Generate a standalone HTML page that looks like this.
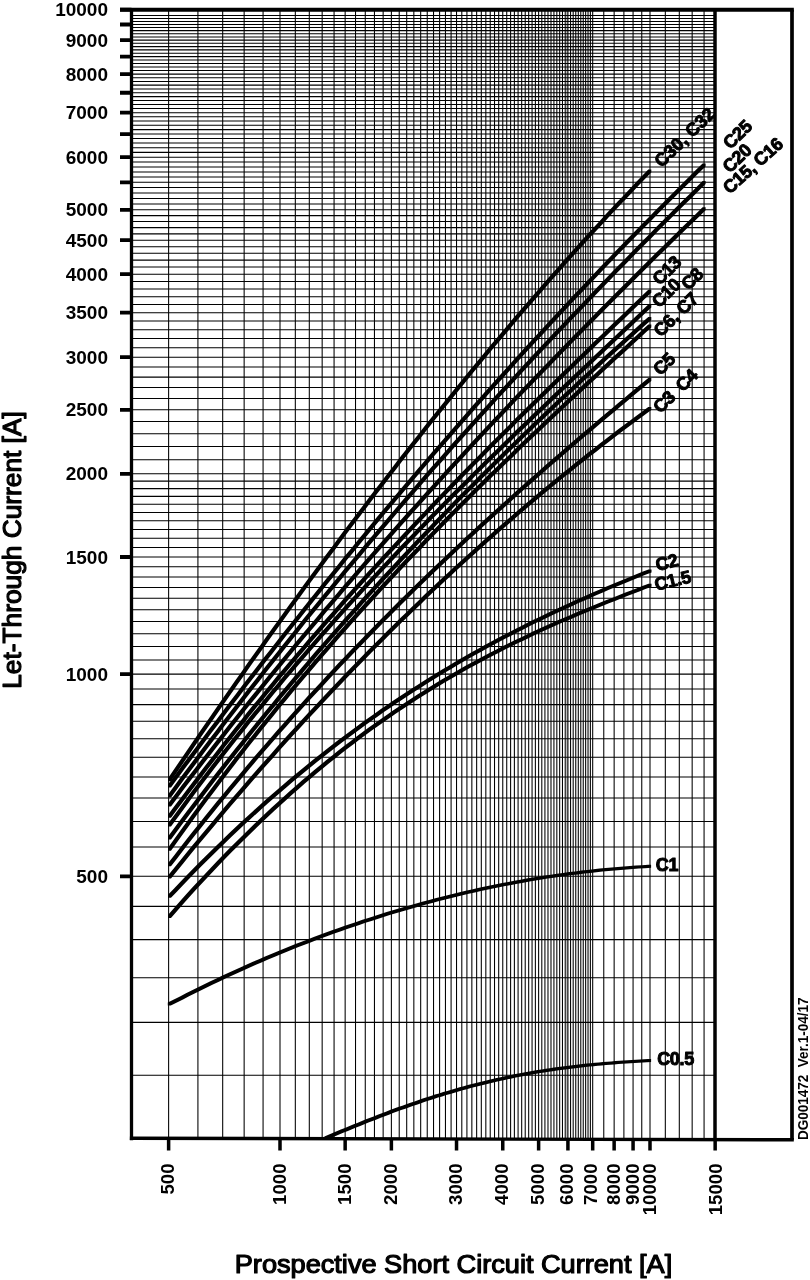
<!DOCTYPE html>
<html><head><meta charset="utf-8"><title>Let-Through Current</title>
<style>
html,body{margin:0;padding:0;background:#fff;}
body{width:810px;height:1280px;overflow:hidden;font-family:"Liberation Sans",sans-serif;}
svg{display:block;opacity:0.999;will-change:transform;}
</style></head><body>
<svg width="810" height="1280" viewBox="0 0 810 1280">
<rect width="810" height="1280" fill="#fff"/>
<path d="M168.62 9.7V1138.6M197.92 9.7V1138.6M222.69 9.7V1138.6M244.14 9.7V1138.6M263.07 9.7V1138.6M280.00 9.7V1138.6M295.32 9.7V1138.6M309.30 9.7V1138.6M322.16 9.7V1138.6M334.07 9.7V1138.6M345.15 9.7V1138.6M355.52 9.7V1138.6M365.27 9.7V1138.6M374.45 9.7V1138.6M383.14 9.7V1138.6M391.38 9.7V1138.6M399.22 9.7V1138.6M406.70 9.7V1138.6M413.84 9.7V1138.6M420.68 9.7V1138.6M427.24 9.7V1138.6M433.54 9.7V1138.6M439.60 9.7V1138.6M445.45 9.7V1138.6M451.09 9.7V1138.6M456.53 9.7V1138.6M461.80 9.7V1138.6M466.91 9.7V1138.6M471.85 9.7V1138.6M476.65 9.7V1138.6M481.31 9.7V1138.6M485.83 9.7V1138.6M490.23 9.7V1138.6M494.52 9.7V1138.6M498.69 9.7V1138.6M502.76 9.7V1138.6M506.73 9.7V1138.6M510.60 9.7V1138.6M514.38 9.7V1138.6M518.08 9.7V1138.6M521.69 9.7V1138.6M525.22 9.7V1138.6M528.68 9.7V1138.6M532.06 9.7V1138.6M535.37 9.7V1138.6M538.62 9.7V1138.6M541.80 9.7V1138.6M544.92 9.7V1138.6M547.98 9.7V1138.6M550.99 9.7V1138.6M553.93 9.7V1138.6M556.83 9.7V1138.6M559.67 9.7V1138.6M562.47 9.7V1138.6M565.22 9.7V1138.6M567.92 9.7V1138.6M570.57 9.7V1138.6M573.18 9.7V1138.6M575.76 9.7V1138.6M578.29 9.7V1138.6M580.78 9.7V1138.6M583.23 9.7V1138.6M585.65 9.7V1138.6M588.03 9.7V1138.6M590.37 9.7V1138.6M592.69 9.7V1138.6M603.77 9.7V1138.6M614.14 9.7V1138.6M623.89 9.7V1138.6M633.07 9.7V1138.6M641.76 9.7V1138.6M650.00 9.7V1138.6M665.32 9.7V1138.6M679.30 9.7V1138.6M692.16 9.7V1138.6M704.07 9.7V1138.6" fill="none" stroke="#000" stroke-width="1.06" stroke-opacity="1.0"/>
<path d="M567.02 9.7V1138.6" fill="none" stroke="#000" stroke-width="1.0" stroke-opacity="0.55"/>
<path d="M131.5 1075.20H715.0M131.5 1022.40H715.0M131.5 977.80H715.0M131.5 939.60H715.0M131.5 906.40H715.0M131.5 876.30H715.0M131.5 847.00H715.0M131.5 821.50H715.0M131.5 798.00H715.0M131.5 777.00H715.0M131.5 757.26H715.0M131.5 738.80H715.0M131.5 721.22H715.0M131.5 704.65H715.0M131.5 688.97H715.0M131.5 674.10H715.0M131.5 660.01H715.0M131.5 646.57H715.0M131.5 633.74H715.0M131.5 621.44H715.0M131.5 609.66H715.0M131.5 598.33H715.0M131.5 587.43H715.0M131.5 576.93H715.0M131.5 566.79H715.0M131.5 557.00H715.0M131.5 547.52H715.0M131.5 538.33H715.0M131.5 529.44H715.0M131.5 520.80H715.0M131.5 512.42H715.0M131.5 504.27H715.0M131.5 496.35H715.0M131.5 488.63H715.0M131.5 481.12H715.0M131.5 473.80H715.0M131.5 459.81H715.0M131.5 446.46H715.0M131.5 433.71H715.0M131.5 421.51H715.0M131.5 409.80H715.0M131.5 398.48H715.0M131.5 387.59H715.0M131.5 377.10H715.0M131.5 366.98H715.0M131.5 357.19H715.0M131.5 347.73H715.0M131.5 338.57H715.0M131.5 329.69H715.0M131.5 321.08H715.0M131.5 312.71H715.0M131.5 304.59H715.0M131.5 296.68H715.0M131.5 288.99H715.0M131.5 281.49H715.0M131.5 274.19H715.0M131.5 267.06H715.0M131.5 260.11H715.0M131.5 253.32H715.0M131.5 246.68H715.0M131.5 240.20H715.0M131.5 233.86H715.0M131.5 227.65H715.0M131.5 221.58H715.0M131.5 215.63H715.0M131.5 209.80H715.0M131.5 204.08H715.0M131.5 198.48H715.0M131.5 192.98H715.0M131.5 187.58H715.0M131.5 182.29H715.0M131.5 177.08H715.0M131.5 171.97H715.0M131.5 166.95H715.0M131.5 162.02H715.0M131.5 157.17H715.0M131.5 152.40H715.0M131.5 147.70H715.0M131.5 143.08H715.0M131.5 138.54H715.0M131.5 134.06H715.0M131.5 129.65H715.0M131.5 125.31H715.0M131.5 121.03H715.0M131.5 116.82H715.0M131.5 112.67H715.0M131.5 108.57H715.0M131.5 104.53H715.0M131.5 100.55H715.0M131.5 96.62H715.0M131.5 92.75H715.0M131.5 88.93H715.0M131.5 85.15H715.0M131.5 81.43H715.0M131.5 77.75H715.0M131.5 74.12H715.0M131.5 70.53H715.0M131.5 66.99H715.0M131.5 63.49H715.0M131.5 60.03H715.0M131.5 56.62H715.0M131.5 53.24H715.0M131.5 49.90H715.0M131.5 46.60H715.0M131.5 43.34H715.0M131.5 40.12H715.0M131.5 36.93H715.0M131.5 33.77H715.0M131.5 30.65H715.0M131.5 27.56H715.0M131.5 24.51H715.0M131.5 21.48H715.0M131.5 18.49H715.0M131.5 15.53H715.0" fill="none" stroke="#000" stroke-width="1.06" stroke-opacity="1.0"/>
<path d="M120.0 9.8H793.85" fill="none" stroke="#000" stroke-width="4.0"/>
<path d="M131.5 9.7V1140.3" fill="none" stroke="#000" stroke-width="3.3"/>
<path d="M129.85 1138.2L793.85 1139.8" fill="none" stroke="#000" stroke-width="3.4"/>
<path d="M715.0 9.7V1139.4" fill="none" stroke="#000" stroke-width="3.5"/>
<path d="M792.0 9.7V1139.8" fill="none" stroke="#000" stroke-width="3.7"/>
<path d="M120.0 9.70H131.5M120.0 40.12H131.5M120.0 74.12H131.5M120.0 112.67H131.5M120.0 157.17H131.5M120.0 209.80H131.5M120.0 240.20H131.5M120.0 274.19H131.5M120.0 312.71H131.5M120.0 357.19H131.5M120.0 409.80H131.5M120.0 473.80H131.5M120.0 557.00H131.5M120.0 674.10H131.5M120.0 876.30H131.5M120.0 24.51H131.5M120.0 56.62H131.5M120.0 92.75H131.5M120.0 134.06H131.5M120.0 182.29H131.5" fill="none" stroke="#000" stroke-width="3.8"/>
<path d="M168.62 1138.6V1150.6M280.00 1138.6V1150.6M345.15 1138.6V1150.6M391.38 1138.6V1150.6M456.53 1138.6V1150.6M502.76 1138.6V1150.6M538.62 1138.6V1150.6M567.92 1138.6V1150.6M592.69 1138.6V1150.6M614.14 1138.6V1150.6M633.07 1138.6V1150.6M650.00 1138.6V1150.6M715.15 1138.6V1150.6" fill="none" stroke="#000" stroke-width="3.5"/>
<text x="108" y="16.3" text-anchor="end" font-family="Liberation Sans, sans-serif" font-weight="bold" font-size="19" fill="#000">10000</text>
<text x="108" y="46.7" text-anchor="end" font-family="Liberation Sans, sans-serif" font-weight="bold" font-size="19" fill="#000">9000</text>
<text x="108" y="80.7" text-anchor="end" font-family="Liberation Sans, sans-serif" font-weight="bold" font-size="19" fill="#000">8000</text>
<text x="108" y="119.3" text-anchor="end" font-family="Liberation Sans, sans-serif" font-weight="bold" font-size="19" fill="#000">7000</text>
<text x="108" y="163.8" text-anchor="end" font-family="Liberation Sans, sans-serif" font-weight="bold" font-size="19" fill="#000">6000</text>
<text x="108" y="216.4" text-anchor="end" font-family="Liberation Sans, sans-serif" font-weight="bold" font-size="19" fill="#000">5000</text>
<text x="108" y="246.8" text-anchor="end" font-family="Liberation Sans, sans-serif" font-weight="bold" font-size="19" fill="#000">4500</text>
<text x="108" y="280.8" text-anchor="end" font-family="Liberation Sans, sans-serif" font-weight="bold" font-size="19" fill="#000">4000</text>
<text x="108" y="319.3" text-anchor="end" font-family="Liberation Sans, sans-serif" font-weight="bold" font-size="19" fill="#000">3500</text>
<text x="108" y="363.8" text-anchor="end" font-family="Liberation Sans, sans-serif" font-weight="bold" font-size="19" fill="#000">3000</text>
<text x="108" y="416.4" text-anchor="end" font-family="Liberation Sans, sans-serif" font-weight="bold" font-size="19" fill="#000">2500</text>
<text x="108" y="480.4" text-anchor="end" font-family="Liberation Sans, sans-serif" font-weight="bold" font-size="19" fill="#000">2000</text>
<text x="108" y="563.6" text-anchor="end" font-family="Liberation Sans, sans-serif" font-weight="bold" font-size="19" fill="#000">1500</text>
<text x="108" y="680.7" text-anchor="end" font-family="Liberation Sans, sans-serif" font-weight="bold" font-size="19" fill="#000">1000</text>
<text x="108" y="882.9" text-anchor="end" font-family="Liberation Sans, sans-serif" font-weight="bold" font-size="19" fill="#000">500</text>
<text transform="translate(174.2 1163.5) rotate(-90)" text-anchor="end" font-family="Liberation Sans, sans-serif" font-weight="bold" font-size="18.6" fill="#000">500</text>
<text transform="translate(285.6 1163.5) rotate(-90)" text-anchor="end" font-family="Liberation Sans, sans-serif" font-weight="bold" font-size="18.6" fill="#000">1000</text>
<text transform="translate(350.8 1163.5) rotate(-90)" text-anchor="end" font-family="Liberation Sans, sans-serif" font-weight="bold" font-size="18.6" fill="#000">1500</text>
<text transform="translate(397.0 1163.5) rotate(-90)" text-anchor="end" font-family="Liberation Sans, sans-serif" font-weight="bold" font-size="18.6" fill="#000">2000</text>
<text transform="translate(462.1 1163.5) rotate(-90)" text-anchor="end" font-family="Liberation Sans, sans-serif" font-weight="bold" font-size="18.6" fill="#000">3000</text>
<text transform="translate(508.4 1163.5) rotate(-90)" text-anchor="end" font-family="Liberation Sans, sans-serif" font-weight="bold" font-size="18.6" fill="#000">4000</text>
<text transform="translate(544.2 1163.5) rotate(-90)" text-anchor="end" font-family="Liberation Sans, sans-serif" font-weight="bold" font-size="18.6" fill="#000">5000</text>
<text transform="translate(573.2 1163.5) rotate(-90)" text-anchor="end" font-family="Liberation Sans, sans-serif" font-weight="bold" font-size="18.6" fill="#000">6000</text>
<text transform="translate(597.1 1163.5) rotate(-90)" text-anchor="end" font-family="Liberation Sans, sans-serif" font-weight="bold" font-size="18.6" fill="#000">7000</text>
<text transform="translate(619.5 1163.5) rotate(-90)" text-anchor="end" font-family="Liberation Sans, sans-serif" font-weight="bold" font-size="18.6" fill="#000">8000</text>
<text transform="translate(638.5 1163.5) rotate(-90)" text-anchor="end" font-family="Liberation Sans, sans-serif" font-weight="bold" font-size="18.6" fill="#000">9000</text>
<text transform="translate(656.3 1163.5) rotate(-90)" text-anchor="end" font-family="Liberation Sans, sans-serif" font-weight="bold" font-size="18.6" fill="#000">10000</text>
<text transform="translate(721.8 1163.5) rotate(-90)" text-anchor="end" font-family="Liberation Sans, sans-serif" font-weight="bold" font-size="18.6" fill="#000">15000</text>
<text x="453.5" y="1272.6" text-anchor="middle" font-family="Liberation Sans, sans-serif" font-size="26" fill="#000" stroke="#000" stroke-width="1.2" stroke-linejoin="round" textLength="437.5" lengthAdjust="spacingAndGlyphs">Prospective Short Circuit Current [A]</text>
<text transform="translate(20.7 550) rotate(-90)" text-anchor="middle" font-family="Liberation Sans, sans-serif" font-size="26" fill="#000" stroke="#000" stroke-width="1.2" stroke-linejoin="round" textLength="277.5" lengthAdjust="spacingAndGlyphs">Let-Through Current [A]</text>
<text transform="translate(807.6 1140) rotate(-90)" font-family="Liberation Sans, sans-serif" font-weight="bold" font-size="14.4" fill="#000" textLength="142.5" lengthAdjust="spacingAndGlyphs" xml:space="preserve">DG001472  Ver.1-04/17</text>
<path d="M168.0 781.2L168.0 778.2L174.1 769.2L180.2 760.3L186.2 751.4L192.3 742.5L198.4 733.6L204.5 724.8L210.6 716.0L216.6 707.2L222.7 698.5L228.8 689.8L234.9 681.1L241.0 672.4L247.0 663.8L253.1 655.2L259.2 646.7L265.3 638.1L271.4 629.6L277.4 621.2L283.5 612.7L289.6 604.3L295.7 596.0L301.8 587.6L307.8 579.3L313.9 571.0L320.0 562.8L326.1 554.6L332.2 546.4L338.2 538.3L344.3 530.1L350.4 522.1L356.5 514.0L362.6 506.0L368.6 498.0L374.7 490.1L380.8 482.2L386.9 474.3L393.0 466.4L399.0 458.6L405.1 450.8L411.2 443.1L417.3 435.4L423.3 427.7L429.4 420.1L435.5 412.5L441.6 404.9L447.7 397.4L453.7 389.9L459.8 382.4L465.9 375.0L472.0 367.6L478.1 360.2L484.1 352.9L490.2 345.6L496.3 338.4L502.4 331.2L508.5 324.0L514.5 316.8L520.6 309.7L526.7 302.7L532.8 295.7L538.9 288.7L544.9 281.7L551.0 274.8L557.1 267.9L563.2 261.1L569.3 254.3L575.3 247.5L581.4 240.8L587.5 234.1L593.6 227.5L599.7 220.9L605.7 214.3L611.8 207.8L617.9 201.3L624.0 194.9L630.1 188.5L636.1 182.1L642.2 175.8L648.3 169.5L651.3 169.5L651.3 172.5L645.2 178.8L639.1 185.1L633.1 191.5L627.0 197.9L620.9 204.3L614.8 210.8L608.7 217.3L602.7 223.9L596.6 230.5L590.5 237.1L584.4 243.8L578.3 250.5L572.3 257.3L566.2 264.1L560.1 270.9L554.0 277.8L547.9 284.7L541.9 291.7L535.8 298.7L529.7 305.7L523.6 312.7L517.5 319.8L511.5 327.0L505.4 334.2L499.3 341.4L493.2 348.6L487.1 355.9L481.1 363.2L475.0 370.6L468.9 378.0L462.8 385.4L456.7 392.9L450.7 400.4L444.6 407.9L438.5 415.5L432.4 423.1L426.3 430.7L420.3 438.4L414.2 446.1L408.1 453.8L402.0 461.6L396.0 469.4L389.9 477.3L383.8 485.2L377.7 493.1L371.6 501.0L365.6 509.0L359.5 517.0L353.4 525.1L347.3 533.1L341.2 541.3L335.2 549.4L329.1 557.6L323.0 565.8L316.9 574.0L310.8 582.3L304.8 590.6L298.7 599.0L292.6 607.3L286.5 615.7L280.4 624.2L274.4 632.6L268.3 641.1L262.2 649.7L256.1 658.2L250.0 666.8L244.0 675.4L237.9 684.1L231.8 692.8L225.7 701.5L219.6 710.2L213.6 719.0L207.5 727.8L201.4 736.6L195.3 745.5L189.2 754.4L183.2 763.3L177.1 772.2L171.0 781.2Z" fill="#000"/>
<path d="M168.0 787.5L168.0 784.5L174.8 775.3L181.5 766.1L188.3 757.0L195.1 747.9L201.8 738.9L208.6 729.8L215.4 720.9L222.1 711.9L228.9 703.0L235.7 694.2L242.4 685.3L249.2 676.5L256.0 667.8L262.7 659.0L269.5 650.4L276.3 641.7L283.0 633.1L289.8 624.5L296.6 616.0L303.3 607.5L310.1 599.0L316.9 590.5L323.6 582.1L330.4 573.8L337.2 565.4L343.9 557.1L350.7 548.9L357.5 540.6L364.2 532.4L371.0 524.3L377.8 516.1L384.5 508.0L391.3 500.0L398.1 491.9L404.8 483.9L411.6 476.0L418.4 468.1L425.1 460.2L431.9 452.3L438.7 444.5L445.5 436.7L452.2 428.9L459.0 421.2L465.8 413.5L472.5 405.8L479.3 398.2L486.1 390.6L492.8 383.0L499.6 375.5L506.4 368.0L513.1 360.5L519.9 353.0L526.7 345.6L533.4 338.2L540.2 330.9L547.0 323.6L553.7 316.3L560.5 309.0L567.3 301.8L574.0 294.6L580.8 287.4L587.6 280.3L594.3 273.2L601.1 266.1L607.9 259.1L614.6 252.0L621.4 245.1L628.2 238.1L634.9 231.2L641.7 224.3L648.5 217.4L655.2 210.6L662.0 203.8L668.8 197.0L675.5 190.2L682.3 183.5L689.1 176.8L695.8 170.1L702.6 163.5L705.6 163.5L705.6 166.5L698.8 173.1L692.1 179.8L685.3 186.5L678.5 193.2L671.8 200.0L665.0 206.8L658.2 213.6L651.5 220.4L644.7 227.3L637.9 234.2L631.2 241.1L624.4 248.1L617.6 255.0L610.9 262.1L604.1 269.1L597.3 276.2L590.6 283.3L583.8 290.4L577.0 297.6L570.3 304.8L563.5 312.0L556.7 319.3L550.0 326.6L543.2 333.9L536.4 341.2L529.7 348.6L522.9 356.0L516.1 363.5L509.4 371.0L502.6 378.5L495.8 386.0L489.1 393.6L482.3 401.2L475.5 408.8L468.8 416.5L462.0 424.2L455.2 431.9L448.5 439.7L441.7 447.5L434.9 455.3L428.1 463.2L421.4 471.1L414.6 479.0L407.8 486.9L401.1 494.9L394.3 503.0L387.5 511.0L380.8 519.1L374.0 527.3L367.2 535.4L360.5 543.6L353.7 551.9L346.9 560.1L340.2 568.4L333.4 576.8L326.6 585.1L319.9 593.5L313.1 602.0L306.3 610.5L299.6 619.0L292.8 627.5L286.0 636.1L279.3 644.7L272.5 653.4L265.7 662.0L259.0 670.8L252.2 679.5L245.4 688.3L238.7 697.2L231.9 706.0L225.1 714.9L218.4 723.9L211.6 732.8L204.8 741.9L198.1 750.9L191.3 760.0L184.5 769.1L177.8 778.3L171.0 787.5Z" fill="#000"/>
<path d="M168.0 797.4L168.0 794.4L174.8 785.2L181.5 776.1L188.3 767.0L195.1 758.0L201.8 749.0L208.6 740.1L215.4 731.2L222.1 722.3L228.9 713.5L235.7 704.7L242.4 696.0L249.2 687.3L256.0 678.7L262.7 670.0L269.5 661.5L276.3 652.9L283.0 644.4L289.8 636.0L296.6 627.5L303.3 619.1L310.1 610.8L316.9 602.5L323.6 594.2L330.4 586.0L337.2 577.8L343.9 569.6L350.7 561.5L357.5 553.4L364.2 545.3L371.0 537.3L377.8 529.3L384.5 521.4L391.3 513.4L398.1 505.6L404.8 497.7L411.6 489.9L418.4 482.1L425.1 474.3L431.9 466.6L438.7 458.9L445.5 451.3L452.2 443.6L459.0 436.0L465.8 428.5L472.5 421.0L479.3 413.4L486.1 406.0L492.8 398.5L499.6 391.1L506.4 383.7L513.1 376.4L519.9 369.1L526.7 361.8L533.4 354.5L540.2 347.2L547.0 340.0L553.7 332.8L560.5 325.7L567.3 318.6L574.0 311.4L580.8 304.4L587.6 297.3L594.3 290.3L601.1 283.3L607.9 276.3L614.6 269.3L621.4 262.4L628.2 255.5L634.9 248.6L641.7 241.8L648.5 234.9L655.2 228.1L662.0 221.3L668.8 214.6L675.5 207.8L682.3 201.1L689.1 194.4L695.8 187.7L702.6 181.1L705.6 181.1L705.6 184.1L698.8 190.7L692.1 197.4L685.3 204.1L678.5 210.8L671.8 217.6L665.0 224.3L658.2 231.1L651.5 237.9L644.7 244.8L637.9 251.6L631.2 258.5L624.4 265.4L617.6 272.3L610.9 279.3L604.1 286.3L597.3 293.3L590.6 300.3L583.8 307.4L577.0 314.4L570.3 321.6L563.5 328.7L556.7 335.8L550.0 343.0L543.2 350.2L536.4 357.5L529.7 364.8L522.9 372.1L516.1 379.4L509.4 386.7L502.6 394.1L495.8 401.5L489.1 409.0L482.3 416.4L475.5 424.0L468.8 431.5L462.0 439.0L455.2 446.6L448.5 454.3L441.7 461.9L434.9 469.6L428.1 477.3L421.4 485.1L414.6 492.9L407.8 500.7L401.1 508.6L394.3 516.4L387.5 524.4L380.8 532.3L374.0 540.3L367.2 548.3L360.5 556.4L353.7 564.5L346.9 572.6L340.2 580.8L333.4 589.0L326.6 597.2L319.9 605.5L313.1 613.8L306.3 622.1L299.6 630.5L292.8 639.0L286.0 647.4L279.3 655.9L272.5 664.5L265.7 673.0L259.0 681.7L252.2 690.3L245.4 699.0L238.7 707.7L231.9 716.5L225.1 725.3L218.4 734.2L211.6 743.1L204.8 752.0L198.1 761.0L191.3 770.0L184.5 779.1L177.8 788.2L171.0 797.4Z" fill="#000"/>
<path d="M168.0 806.5L168.0 803.5L174.8 794.5L181.5 785.6L188.3 776.8L195.1 768.0L201.8 759.2L208.6 750.5L215.4 741.8L222.1 733.2L228.9 724.6L235.7 716.1L242.4 707.6L249.2 699.1L256.0 690.7L262.7 682.4L269.5 674.0L276.3 665.7L283.0 657.5L289.8 649.3L296.6 641.1L303.3 633.0L310.1 624.9L316.9 616.9L323.6 608.8L330.4 600.9L337.2 592.9L343.9 585.0L350.7 577.2L357.5 569.3L364.2 561.5L371.0 553.8L377.8 546.1L384.5 538.4L391.3 530.7L398.1 523.1L404.8 515.5L411.6 507.9L418.4 500.4L425.1 492.9L431.9 485.5L438.7 478.0L445.5 470.6L452.2 463.2L459.0 455.9L465.8 448.6L472.5 441.3L479.3 434.0L486.1 426.8L492.8 419.6L499.6 412.4L506.4 405.3L513.1 398.1L519.9 391.0L526.7 384.0L533.4 376.9L540.2 369.9L547.0 362.9L553.7 355.9L560.5 348.9L567.3 342.0L574.0 335.1L580.8 328.2L587.6 321.3L594.3 314.5L601.1 307.6L607.9 300.8L614.6 294.0L621.4 287.2L628.2 280.5L634.9 273.8L641.7 267.0L648.5 260.3L655.2 253.6L662.0 247.0L668.8 240.3L675.5 233.7L682.3 227.1L689.1 220.5L695.8 213.9L702.6 207.3L705.6 207.3L705.6 210.3L698.8 216.9L692.1 223.5L685.3 230.1L678.5 236.7L671.8 243.3L665.0 250.0L658.2 256.6L651.5 263.3L644.7 270.0L637.9 276.8L631.2 283.5L624.4 290.2L617.6 297.0L610.9 303.8L604.1 310.6L597.3 317.5L590.6 324.3L583.8 331.2L577.0 338.1L570.3 345.0L563.5 351.9L556.7 358.9L550.0 365.9L543.2 372.9L536.4 379.9L529.7 387.0L522.9 394.0L516.1 401.1L509.4 408.3L502.6 415.4L495.8 422.6L489.1 429.8L482.3 437.0L475.5 444.3L468.8 451.6L462.0 458.9L455.2 466.2L448.5 473.6L441.7 481.0L434.9 488.5L428.1 495.9L421.4 503.4L414.6 510.9L407.8 518.5L401.1 526.1L394.3 533.7L387.5 541.4L380.8 549.1L374.0 556.8L367.2 564.5L360.5 572.3L353.7 580.2L346.9 588.0L340.2 595.9L333.4 603.9L326.6 611.8L319.9 619.9L313.1 627.9L306.3 636.0L299.6 644.1L292.8 652.3L286.0 660.5L279.3 668.7L272.5 677.0L265.7 685.4L259.0 693.7L252.2 702.1L245.4 710.6L238.7 719.1L231.9 727.6L225.1 736.2L218.4 744.8L211.6 753.5L204.8 762.2L198.1 771.0L191.3 779.8L184.5 788.6L177.8 797.5L171.0 806.5Z" fill="#000"/>
<path d="M168.0 817.8L168.0 814.8L174.1 806.6L180.2 798.5L186.2 790.4L192.3 782.4L198.4 774.4L204.5 766.5L210.6 758.7L216.6 750.9L222.7 743.1L228.8 735.4L234.9 727.8L241.0 720.2L247.0 712.6L253.1 705.1L259.2 697.7L265.3 690.3L271.4 683.0L277.4 675.6L283.5 668.4L289.6 661.2L295.7 654.0L301.8 646.9L307.8 639.8L313.9 632.7L320.0 625.7L326.1 618.8L332.2 611.9L338.2 605.0L344.3 598.1L350.4 591.3L356.5 584.6L362.6 577.8L368.6 571.1L374.7 564.5L380.8 557.8L386.9 551.2L393.0 544.7L399.0 538.2L405.1 531.7L411.2 525.2L417.3 518.8L423.3 512.4L429.4 506.0L435.5 499.6L441.6 493.3L447.7 487.0L453.7 480.7L459.8 474.5L465.9 468.3L472.0 462.1L478.1 455.9L484.1 449.8L490.2 443.6L496.3 437.5L502.4 431.4L508.5 425.4L514.5 419.3L520.6 413.3L526.7 407.3L532.8 401.3L538.9 395.3L544.9 389.4L551.0 383.4L557.1 377.5L563.2 371.6L569.3 365.7L575.3 359.8L581.4 353.9L587.5 348.0L593.6 342.1L599.7 336.3L605.7 330.4L611.8 324.6L617.9 318.8L624.0 313.0L630.1 307.1L636.1 301.3L642.2 295.5L648.3 289.7L651.3 289.7L651.3 292.7L645.2 298.5L639.1 304.3L633.1 310.1L627.0 316.0L620.9 321.8L614.8 327.6L608.7 333.4L602.7 339.3L596.6 345.1L590.5 351.0L584.4 356.9L578.3 362.8L572.3 368.7L566.2 374.6L560.1 380.5L554.0 386.4L547.9 392.4L541.9 398.3L535.8 404.3L529.7 410.3L523.6 416.3L517.5 422.3L511.5 428.4L505.4 434.4L499.3 440.5L493.2 446.6L487.1 452.8L481.1 458.9L475.0 465.1L468.9 471.3L462.8 477.5L456.7 483.7L450.7 490.0L444.6 496.3L438.5 502.6L432.4 509.0L426.3 515.4L420.3 521.8L414.2 528.2L408.1 534.7L402.0 541.2L396.0 547.7L389.9 554.2L383.8 560.8L377.7 567.5L371.6 574.1L365.6 580.8L359.5 587.6L353.4 594.3L347.3 601.1L341.2 608.0L335.2 614.9L329.1 621.8L323.0 628.7L316.9 635.7L310.8 642.8L304.8 649.9L298.7 657.0L292.6 664.2L286.5 671.4L280.4 678.6L274.4 686.0L268.3 693.3L262.2 700.7L256.1 708.1L250.0 715.6L244.0 723.2L237.9 730.8L231.8 738.4L225.7 746.1L219.6 753.9L213.6 761.7L207.5 769.5L201.4 777.4L195.3 785.4L189.2 793.4L183.2 801.5L177.1 809.6L171.0 817.8Z" fill="#000"/>
<path d="M168.0 826.5L168.0 823.5L174.1 815.2L180.2 806.9L186.2 798.7L192.3 790.6L198.4 782.5L204.5 774.5L210.6 766.6L216.6 758.7L222.7 750.9L228.8 743.2L234.9 735.5L241.0 727.9L247.0 720.3L253.1 712.8L259.2 705.4L265.3 698.0L271.4 690.6L277.4 683.4L283.5 676.1L289.6 669.0L295.7 661.8L301.8 654.8L307.8 647.7L313.9 640.7L320.0 633.8L326.1 626.9L332.2 620.1L338.2 613.3L344.3 606.6L350.4 599.8L356.5 593.2L362.6 586.6L368.6 580.0L374.7 573.4L380.8 566.9L386.9 560.5L393.0 554.0L399.0 547.6L405.1 541.3L411.2 534.9L417.3 528.6L423.3 522.4L429.4 516.1L435.5 509.9L441.6 503.8L447.7 497.6L453.7 491.5L459.8 485.4L465.9 479.4L472.0 473.3L478.1 467.3L484.1 461.3L490.2 455.3L496.3 449.4L502.4 443.4L508.5 437.5L514.5 431.6L520.6 425.7L526.7 419.9L532.8 414.0L538.9 408.2L544.9 402.4L551.0 396.6L557.1 390.8L563.2 385.0L569.3 379.2L575.3 373.4L581.4 367.7L587.5 361.9L593.6 356.2L599.7 350.4L605.7 344.7L611.8 338.9L617.9 333.2L624.0 327.5L630.1 321.7L636.1 316.0L642.2 310.3L648.3 304.5L651.3 304.5L651.3 307.5L645.2 313.3L639.1 319.0L633.1 324.7L627.0 330.5L620.9 336.2L614.8 341.9L608.7 347.7L602.7 353.4L596.6 359.2L590.5 364.9L584.4 370.7L578.3 376.4L572.3 382.2L566.2 388.0L560.1 393.8L554.0 399.6L547.9 405.4L541.9 411.2L535.8 417.0L529.7 422.9L523.6 428.7L517.5 434.6L511.5 440.5L505.4 446.4L499.3 452.4L493.2 458.3L487.1 464.3L481.1 470.3L475.0 476.3L468.9 482.4L462.8 488.4L456.7 494.5L450.7 500.6L444.6 506.8L438.5 512.9L432.4 519.1L426.3 525.4L420.3 531.6L414.2 537.9L408.1 544.3L402.0 550.6L396.0 557.0L389.9 563.5L383.8 569.9L377.7 576.4L371.6 583.0L365.6 589.6L359.5 596.2L353.4 602.8L347.3 609.6L341.2 616.3L335.2 623.1L329.1 629.9L323.0 636.8L316.9 643.7L310.8 650.7L304.8 657.8L298.7 664.8L292.6 672.0L286.5 679.1L280.4 686.4L274.4 693.6L268.3 701.0L262.2 708.4L256.1 715.8L250.0 723.3L244.0 730.9L237.9 738.5L231.8 746.2L225.7 753.9L219.6 761.7L213.6 769.6L207.5 777.5L201.4 785.5L195.3 793.6L189.2 801.7L183.2 809.9L177.1 818.2L171.0 826.5Z" fill="#000"/>
<path d="M168.0 839.5L168.0 836.5L174.1 828.3L180.2 820.1L186.2 812.0L192.3 804.0L198.4 796.0L204.5 788.0L210.6 780.1L216.6 772.2L222.7 764.4L228.8 756.7L234.9 749.0L241.0 741.4L247.0 733.8L253.1 726.2L259.2 718.7L265.3 711.3L271.4 703.9L277.4 696.5L283.5 689.2L289.6 681.9L295.7 674.7L301.8 667.5L307.8 660.4L313.9 653.3L320.0 646.3L326.1 639.3L332.2 632.3L338.2 625.4L344.3 618.5L350.4 611.7L356.5 604.9L362.6 598.1L368.6 591.4L374.7 584.7L380.8 578.1L386.9 571.5L393.0 565.0L399.0 558.4L405.1 551.9L411.2 545.5L417.3 539.1L423.3 532.7L429.4 526.4L435.5 520.0L441.6 513.8L447.7 507.5L453.7 501.3L459.8 495.1L465.9 489.0L472.0 482.9L478.1 476.8L484.1 470.7L490.2 464.7L496.3 458.7L502.4 452.7L508.5 446.8L514.5 440.9L520.6 435.0L526.7 429.2L532.8 423.3L538.9 417.5L544.9 411.7L551.0 406.0L557.1 400.3L563.2 394.6L569.3 388.9L575.3 383.2L581.4 377.6L587.5 372.0L593.6 366.4L599.7 360.8L605.7 355.2L611.8 349.7L617.9 344.2L624.0 338.7L630.1 333.2L636.1 327.8L642.2 322.3L648.3 316.9L651.3 316.9L651.3 319.9L645.2 325.3L639.1 330.8L633.1 336.2L627.0 341.7L620.9 347.2L614.8 352.7L608.7 358.2L602.7 363.8L596.6 369.4L590.5 375.0L584.4 380.6L578.3 386.2L572.3 391.9L566.2 397.6L560.1 403.3L554.0 409.0L547.9 414.7L541.9 420.5L535.8 426.3L529.7 432.2L523.6 438.0L517.5 443.9L511.5 449.8L505.4 455.7L499.3 461.7L493.2 467.7L487.1 473.7L481.1 479.8L475.0 485.9L468.9 492.0L462.8 498.1L456.7 504.3L450.7 510.5L444.6 516.8L438.5 523.0L432.4 529.4L426.3 535.7L420.3 542.1L414.2 548.5L408.1 554.9L402.0 561.4L396.0 568.0L389.9 574.5L383.8 581.1L377.7 587.7L371.6 594.4L365.6 601.1L359.5 607.9L353.4 614.7L347.3 621.5L341.2 628.4L335.2 635.3L329.1 642.3L323.0 649.3L316.9 656.3L310.8 663.4L304.8 670.5L298.7 677.7L292.6 684.9L286.5 692.2L280.4 699.5L274.4 706.9L268.3 714.3L262.2 721.7L256.1 729.2L250.0 736.8L244.0 744.4L237.9 752.0L231.8 759.7L225.7 767.4L219.6 775.2L213.6 783.1L207.5 791.0L201.4 799.0L195.3 807.0L189.2 815.0L183.2 823.1L177.1 831.3L171.0 839.5Z" fill="#000"/>
<path d="M168.0 850.8L168.0 847.8L174.1 839.3L180.2 830.8L186.2 822.4L192.3 814.1L198.4 805.8L204.5 797.6L210.6 789.5L216.6 781.4L222.7 773.4L228.8 765.5L234.9 757.6L241.0 749.8L247.0 742.1L253.1 734.4L259.2 726.8L265.3 719.2L271.4 711.7L277.4 704.3L283.5 696.9L289.6 689.5L295.7 682.3L301.8 675.0L307.8 667.9L313.9 660.7L320.0 653.7L326.1 646.7L332.2 639.7L338.2 632.8L344.3 625.9L350.4 619.1L356.5 612.3L362.6 605.6L368.6 598.9L374.7 592.2L380.8 585.6L386.9 579.1L393.0 572.5L399.0 566.1L405.1 559.6L411.2 553.2L417.3 546.9L423.3 540.5L429.4 534.2L435.5 528.0L441.6 521.8L447.7 515.6L453.7 509.4L459.8 503.3L465.9 497.2L472.0 491.1L478.1 485.1L484.1 479.1L490.2 473.1L496.3 467.2L502.4 461.3L508.5 455.4L514.5 449.5L520.6 443.6L526.7 437.8L532.8 432.0L538.9 426.2L544.9 420.4L551.0 414.7L557.1 409.0L563.2 403.2L569.3 397.5L575.3 391.9L581.4 386.2L587.5 380.5L593.6 374.9L599.7 369.3L605.7 363.7L611.8 358.0L617.9 352.5L624.0 346.9L630.1 341.3L636.1 335.7L642.2 330.1L648.3 324.6L651.3 324.6L651.3 327.6L645.2 333.1L639.1 338.7L633.1 344.3L627.0 349.9L620.9 355.5L614.8 361.0L608.7 366.7L602.7 372.3L596.6 377.9L590.5 383.5L584.4 389.2L578.3 394.9L572.3 400.5L566.2 406.2L560.1 412.0L554.0 417.7L547.9 423.4L541.9 429.2L535.8 435.0L529.7 440.8L523.6 446.6L517.5 452.5L511.5 458.4L505.4 464.3L499.3 470.2L493.2 476.1L487.1 482.1L481.1 488.1L475.0 494.1L468.9 500.2L462.8 506.3L456.7 512.4L450.7 518.6L444.6 524.8L438.5 531.0L432.4 537.2L426.3 543.5L420.3 549.9L414.2 556.2L408.1 562.6L402.0 569.1L396.0 575.5L389.9 582.1L383.8 588.6L377.7 595.2L371.6 601.9L365.6 608.6L359.5 615.3L353.4 622.1L347.3 628.9L341.2 635.8L335.2 642.7L329.1 649.7L323.0 656.7L316.9 663.7L310.8 670.9L304.8 678.0L298.7 685.3L292.6 692.5L286.5 699.9L280.4 707.3L274.4 714.7L268.3 722.2L262.2 729.8L256.1 737.4L250.0 745.1L244.0 752.8L237.9 760.6L231.8 768.5L225.7 776.4L219.6 784.4L213.6 792.5L207.5 800.6L201.4 808.8L195.3 817.1L189.2 825.4L183.2 833.8L177.1 842.3L171.0 850.8Z" fill="#000"/>
<path d="M168.0 866.3L168.0 863.3L174.1 855.4L180.2 847.6L186.2 839.8L192.3 832.1L198.4 824.4L204.5 816.8L210.6 809.3L216.6 801.8L222.7 794.4L228.8 787.0L234.9 779.7L241.0 772.5L247.0 765.3L253.1 758.1L259.2 751.0L265.3 744.0L271.4 737.0L277.4 730.1L283.5 723.2L289.6 716.3L295.7 709.5L301.8 702.8L307.8 696.1L313.9 689.5L320.0 682.9L326.1 676.3L332.2 669.8L338.2 663.3L344.3 656.9L350.4 650.6L356.5 644.2L362.6 637.9L368.6 631.7L374.7 625.5L380.8 619.3L386.9 613.2L393.0 607.1L399.0 601.0L405.1 595.0L411.2 589.1L417.3 583.1L423.3 577.2L429.4 571.3L435.5 565.5L441.6 559.7L447.7 553.9L453.7 548.2L459.8 542.5L465.9 536.8L472.0 531.2L478.1 525.6L484.1 520.0L490.2 514.4L496.3 508.9L502.4 503.4L508.5 497.9L514.5 492.5L520.6 487.1L526.7 481.7L532.8 476.3L538.9 471.0L544.9 465.6L551.0 460.3L557.1 455.1L563.2 449.8L569.3 444.6L575.3 439.3L581.4 434.1L587.5 428.9L593.6 423.8L599.7 418.6L605.7 413.5L611.8 408.4L617.9 403.3L624.0 398.2L630.1 393.1L636.1 388.1L642.2 383.0L648.3 378.0L651.3 378.0L651.3 381.0L645.2 386.0L639.1 391.1L633.1 396.1L627.0 401.2L620.9 406.3L614.8 411.4L608.7 416.5L602.7 421.6L596.6 426.8L590.5 431.9L584.4 437.1L578.3 442.3L572.3 447.6L566.2 452.8L560.1 458.1L554.0 463.3L547.9 468.6L541.9 474.0L535.8 479.3L529.7 484.7L523.6 490.1L517.5 495.5L511.5 500.9L505.4 506.4L499.3 511.9L493.2 517.4L487.1 523.0L481.1 528.6L475.0 534.2L468.9 539.8L462.8 545.5L456.7 551.2L450.7 556.9L444.6 562.7L438.5 568.5L432.4 574.3L426.3 580.2L420.3 586.1L414.2 592.1L408.1 598.0L402.0 604.0L396.0 610.1L389.9 616.2L383.8 622.3L377.7 628.5L371.6 634.7L365.6 640.9L359.5 647.2L353.4 653.6L347.3 659.9L341.2 666.3L335.2 672.8L329.1 679.3L323.0 685.9L316.9 692.5L310.8 699.1L304.8 705.8L298.7 712.5L292.6 719.3L286.5 726.2L280.4 733.1L274.4 740.0L268.3 747.0L262.2 754.0L256.1 761.1L250.0 768.3L244.0 775.5L237.9 782.7L231.8 790.0L225.7 797.4L219.6 804.8L213.6 812.3L207.5 819.8L201.4 827.4L195.3 835.1L189.2 842.8L183.2 850.6L177.1 858.4L171.0 866.3Z" fill="#000"/>
<path d="M168.0 878.5L168.0 875.5L174.1 868.0L180.2 860.5L186.2 853.0L192.3 845.6L198.4 838.3L204.5 831.0L210.6 823.7L216.6 816.5L222.7 809.3L228.8 802.1L234.9 795.0L241.0 788.0L247.0 781.0L253.1 774.0L259.2 767.1L265.3 760.2L271.4 753.4L277.4 746.6L283.5 739.8L289.6 733.1L295.7 726.4L301.8 719.8L307.8 713.2L313.9 706.7L320.0 700.2L326.1 693.7L332.2 687.3L338.2 680.9L344.3 674.6L350.4 668.3L356.5 662.0L362.6 655.8L368.6 649.6L374.7 643.5L380.8 637.4L386.9 631.3L393.0 625.3L399.0 619.3L405.1 613.4L411.2 607.5L417.3 601.7L423.3 595.8L429.4 590.1L435.5 584.3L441.6 578.6L447.7 573.0L453.7 567.3L459.8 561.7L465.9 556.2L472.0 550.7L478.1 545.2L484.1 539.8L490.2 534.4L496.3 529.0L502.4 523.7L508.5 518.4L514.5 513.2L520.6 508.0L526.7 502.8L532.8 497.7L538.9 492.6L544.9 487.5L551.0 482.5L557.1 477.5L563.2 472.6L569.3 467.7L575.3 462.8L581.4 457.9L587.5 453.1L593.6 448.4L599.7 443.6L605.7 438.9L611.8 434.3L617.9 429.6L624.0 425.0L630.1 420.5L636.1 416.0L642.2 411.5L648.3 407.0L651.3 407.0L651.3 410.0L645.2 414.5L639.1 419.0L633.1 423.5L627.0 428.0L620.9 432.6L614.8 437.3L608.7 441.9L602.7 446.6L596.6 451.4L590.5 456.1L584.4 460.9L578.3 465.8L572.3 470.7L566.2 475.6L560.1 480.5L554.0 485.5L547.9 490.5L541.9 495.6L535.8 500.7L529.7 505.8L523.6 511.0L517.5 516.2L511.5 521.4L505.4 526.7L499.3 532.0L493.2 537.4L487.1 542.8L481.1 548.2L475.0 553.7L468.9 559.2L462.8 564.7L456.7 570.3L450.7 576.0L444.6 581.6L438.5 587.3L432.4 593.1L426.3 598.8L420.3 604.7L414.2 610.5L408.1 616.4L402.0 622.3L396.0 628.3L389.9 634.3L383.8 640.4L377.7 646.5L371.6 652.6L365.6 658.8L359.5 665.0L353.4 671.3L347.3 677.6L341.2 683.9L335.2 690.3L329.1 696.7L323.0 703.2L316.9 709.7L310.8 716.2L304.8 722.8L298.7 729.4L292.6 736.1L286.5 742.8L280.4 749.6L274.4 756.4L268.3 763.2L262.2 770.1L256.1 777.0L250.0 784.0L244.0 791.0L237.9 798.0L231.8 805.1L225.7 812.3L219.6 819.5L213.6 826.7L207.5 834.0L201.4 841.3L195.3 848.6L189.2 856.0L183.2 863.5L177.1 871.0L171.0 878.5Z" fill="#000"/>
<path d="M168.0 897.8L168.0 894.8L174.1 888.4L180.2 882.0L186.2 875.7L192.3 869.5L198.4 863.3L204.5 857.2L210.6 851.2L216.7 845.2L222.7 839.4L228.8 833.5L234.9 827.8L241.0 822.1L247.1 816.5L253.2 810.9L259.2 805.4L265.3 800.0L271.4 794.7L277.5 789.4L283.6 784.2L289.6 779.0L295.7 773.9L301.8 768.9L307.9 763.9L314.0 759.0L320.1 754.2L326.1 749.4L332.2 744.7L338.3 740.0L344.4 735.4L350.5 730.9L356.6 726.4L362.6 722.0L368.7 717.7L374.8 713.4L380.9 709.1L387.0 705.0L393.0 700.8L399.1 696.8L405.2 692.8L411.3 688.8L417.4 684.9L423.5 681.0L429.5 677.2L435.6 673.5L441.7 669.8L447.8 666.2L453.9 662.6L459.9 659.0L466.0 655.5L472.1 652.1L478.2 648.7L484.3 645.3L490.4 642.0L496.4 638.8L502.5 635.6L508.6 632.4L514.7 629.3L520.8 626.2L526.9 623.1L532.9 620.1L539.0 617.2L545.1 614.2L551.2 611.3L557.3 608.5L563.3 605.7L569.4 602.9L575.5 600.1L581.6 597.4L587.7 594.7L593.8 592.0L599.8 589.4L605.9 586.8L612.0 584.3L618.1 581.7L624.2 579.2L630.3 576.7L636.3 574.2L642.4 571.8L648.5 569.4L651.5 569.4L651.5 572.4L645.4 574.8L639.3 577.2L633.3 579.7L627.2 582.2L621.1 584.7L615.0 587.3L608.9 589.8L602.8 592.4L596.8 595.0L590.7 597.7L584.6 600.4L578.5 603.1L572.4 605.9L566.3 608.7L560.3 611.5L554.2 614.3L548.1 617.2L542.0 620.2L535.9 623.1L529.9 626.1L523.8 629.2L517.7 632.3L511.6 635.4L505.5 638.6L499.4 641.8L493.4 645.0L487.3 648.3L481.2 651.7L475.1 655.1L469.0 658.5L462.9 662.0L456.9 665.6L450.8 669.2L444.7 672.8L438.6 676.5L432.5 680.2L426.5 684.0L420.4 687.9L414.3 691.8L408.2 695.8L402.1 699.8L396.0 703.8L390.0 708.0L383.9 712.1L377.8 716.4L371.7 720.7L365.6 725.0L359.6 729.4L353.5 733.9L347.4 738.4L341.3 743.0L335.2 747.7L329.1 752.4L323.1 757.2L317.0 762.0L310.9 766.9L304.8 771.9L298.7 776.9L292.6 782.0L286.6 787.2L280.5 792.4L274.4 797.7L268.3 803.0L262.2 808.4L256.2 813.9L250.1 819.5L244.0 825.1L237.9 830.8L231.8 836.5L225.7 842.4L219.7 848.2L213.6 854.2L207.5 860.2L201.4 866.3L195.3 872.5L189.2 878.7L183.2 885.0L177.1 891.4L171.0 897.8Z" fill="#000"/>
<path d="M168.0 917.9L168.0 914.9L174.1 907.9L180.2 901.1L186.2 894.3L192.3 887.6L198.4 881.0L204.5 874.5L210.6 868.0L216.7 861.6L222.7 855.3L228.8 849.1L234.9 843.0L241.0 836.9L247.1 830.9L253.2 825.0L259.2 819.2L265.3 813.5L271.4 807.8L277.5 802.2L283.6 796.7L289.6 791.3L295.7 785.9L301.8 780.6L307.9 775.4L314.0 770.3L320.1 765.3L326.1 760.3L332.2 755.4L338.3 750.6L344.4 745.8L350.5 741.2L356.6 736.6L362.6 732.1L368.7 727.6L374.8 723.2L380.9 718.9L387.0 714.7L393.0 710.5L399.1 706.4L405.2 702.4L411.3 698.4L417.4 694.5L423.5 690.7L429.5 686.9L435.6 683.2L441.7 679.6L447.8 676.0L453.9 672.5L459.9 669.0L466.0 665.6L472.1 662.2L478.2 659.0L484.3 655.7L490.4 652.5L496.4 649.4L502.5 646.3L508.6 643.3L514.7 640.3L520.8 637.4L526.9 634.5L532.9 631.6L539.0 628.8L545.1 626.1L551.2 623.3L557.3 620.6L563.3 618.0L569.4 615.4L575.5 612.8L581.6 610.2L587.7 607.7L593.8 605.2L599.8 602.8L605.9 600.3L612.0 597.9L618.1 595.5L624.2 593.1L630.3 590.7L636.3 588.4L642.4 586.1L648.5 583.7L651.5 583.7L651.5 586.7L645.4 589.1L639.3 591.4L633.3 593.7L627.2 596.1L621.1 598.5L615.0 600.9L608.9 603.3L602.8 605.8L596.8 608.2L590.7 610.7L584.6 613.2L578.5 615.8L572.4 618.4L566.3 621.0L560.3 623.6L554.2 626.3L548.1 629.1L542.0 631.8L535.9 634.6L529.9 637.5L523.8 640.4L517.7 643.3L511.6 646.3L505.5 649.3L499.4 652.4L493.4 655.5L487.3 658.7L481.2 662.0L475.1 665.2L469.0 668.6L462.9 672.0L456.9 675.5L450.8 679.0L444.7 682.6L438.6 686.2L432.5 689.9L426.5 693.7L420.4 697.5L414.3 701.4L408.2 705.4L402.1 709.4L396.0 713.5L390.0 717.7L383.9 721.9L377.8 726.2L371.7 730.6L365.6 735.1L359.6 739.6L353.5 744.2L347.4 748.8L341.3 753.6L335.2 758.4L329.1 763.3L323.1 768.3L317.0 773.3L310.9 778.4L304.8 783.6L298.7 788.9L292.6 794.3L286.6 799.7L280.5 805.2L274.4 810.8L268.3 816.5L262.2 822.2L256.2 828.0L250.1 833.9L244.0 839.9L237.9 846.0L231.8 852.1L225.7 858.3L219.7 864.6L213.6 871.0L207.5 877.5L201.4 884.0L195.3 890.6L189.2 897.3L183.2 904.1L177.1 910.9L171.0 917.9Z" fill="#000"/>
<path d="M167.8 1005.6L167.8 1002.6L173.9 999.5L180.0 996.4L186.0 993.3L192.1 990.3L198.2 987.2L204.3 984.3L210.4 981.3L216.4 978.5L222.5 975.6L228.6 972.8L234.7 970.0L240.8 967.2L246.8 964.5L252.9 961.8L259.0 959.2L265.1 956.6L271.2 954.0L277.2 951.5L283.3 949.0L289.4 946.6L295.5 944.1L301.6 941.7L307.6 939.4L313.7 937.1L319.8 934.8L325.9 932.6L332.0 930.3L338.0 928.2L344.1 926.0L350.2 923.9L356.3 921.9L362.4 919.8L368.4 917.9L374.5 915.9L380.6 914.0L386.7 912.1L392.8 910.2L398.8 908.4L404.9 906.7L411.0 904.9L417.1 903.2L423.1 901.5L429.2 899.9L435.3 898.3L441.4 896.7L447.5 895.2L453.5 893.7L459.6 892.3L465.7 890.8L471.8 889.5L477.9 888.1L483.9 886.8L490.0 885.5L496.1 884.3L502.2 883.1L508.3 881.9L514.3 880.8L520.4 879.7L526.5 878.6L532.6 877.6L538.7 876.6L544.7 875.6L550.8 874.7L556.9 873.8L563.0 873.0L569.1 872.1L575.1 871.4L581.2 870.6L587.3 869.9L593.4 869.2L599.5 868.6L605.5 868.0L611.6 867.4L617.7 866.9L623.8 866.4L629.9 866.0L635.9 865.5L642.0 865.2L648.1 864.8L651.1 864.8L651.1 867.8L645.0 868.2L638.9 868.5L632.9 869.0L626.8 869.4L620.7 869.9L614.6 870.4L608.5 871.0L602.5 871.6L596.4 872.2L590.3 872.9L584.2 873.6L578.1 874.4L572.1 875.1L566.0 876.0L559.9 876.8L553.8 877.7L547.7 878.6L541.7 879.6L535.6 880.6L529.5 881.6L523.4 882.7L517.3 883.8L511.3 884.9L505.2 886.1L499.1 887.3L493.0 888.5L486.9 889.8L480.9 891.1L474.8 892.5L468.7 893.8L462.6 895.3L456.5 896.7L450.5 898.2L444.4 899.7L438.3 901.3L432.2 902.9L426.1 904.5L420.1 906.2L414.0 907.9L407.9 909.7L401.8 911.4L395.8 913.2L389.7 915.1L383.6 917.0L377.5 918.9L371.4 920.9L365.4 922.8L359.3 924.9L353.2 926.9L347.1 929.0L341.0 931.2L335.0 933.3L328.9 935.6L322.8 937.8L316.7 940.1L310.6 942.4L304.6 944.7L298.5 947.1L292.4 949.6L286.3 952.0L280.2 954.5L274.2 957.0L268.1 959.6L262.0 962.2L255.9 964.8L249.8 967.5L243.8 970.2L237.7 973.0L231.6 975.8L225.5 978.6L219.4 981.5L213.4 984.3L207.3 987.3L201.2 990.2L195.1 993.3L189.0 996.3L183.0 999.4L176.9 1002.5L170.8 1005.6Z" fill="#000"/>
<path d="M324.4 1139.5L324.4 1136.5L328.5 1134.7L332.6 1133.0L336.7 1131.3L340.8 1129.6L344.9 1127.9L349.0 1126.2L353.1 1124.5L357.2 1122.9L361.3 1121.2L365.4 1119.6L369.5 1118.0L373.6 1116.4L377.7 1114.8L381.8 1113.2L385.9 1111.7L390.0 1110.1L394.1 1108.6L398.2 1107.1L402.3 1105.7L406.3 1104.2L410.4 1102.8L414.5 1101.4L418.6 1100.0L422.7 1098.6L426.8 1097.3L430.9 1095.9L435.0 1094.6L439.1 1093.4L443.2 1092.1L447.3 1090.9L451.4 1089.7L455.5 1088.5L459.6 1087.3L463.7 1086.2L467.8 1085.1L471.9 1084.0L476.0 1083.0L480.1 1081.9L484.2 1080.9L488.3 1079.9L492.4 1079.0L496.5 1078.1L500.6 1077.2L504.7 1076.3L508.8 1075.4L512.9 1074.6L517.0 1073.8L521.1 1073.0L525.2 1072.2L529.3 1071.5L533.4 1070.8L537.5 1070.1L541.6 1069.4L545.7 1068.8L549.8 1068.2L553.9 1067.6L558.0 1067.0L562.1 1066.5L566.2 1065.9L570.2 1065.4L574.3 1064.9L578.4 1064.5L582.5 1064.0L586.6 1063.6L590.7 1063.2L594.8 1062.8L598.9 1062.4L603.0 1062.0L607.1 1061.7L611.2 1061.4L615.3 1061.1L619.4 1060.8L623.5 1060.5L627.6 1060.2L631.7 1059.9L635.8 1059.7L639.9 1059.5L644.0 1059.2L648.1 1059.0L651.1 1059.0L651.1 1062.0L647.0 1062.2L642.9 1062.5L638.8 1062.7L634.7 1062.9L630.6 1063.2L626.5 1063.5L622.4 1063.8L618.3 1064.1L614.2 1064.4L610.1 1064.7L606.0 1065.0L601.9 1065.4L597.8 1065.8L593.7 1066.2L589.6 1066.6L585.5 1067.0L581.4 1067.5L577.3 1067.9L573.2 1068.4L569.2 1068.9L565.1 1069.5L561.0 1070.0L556.9 1070.6L552.8 1071.2L548.7 1071.8L544.6 1072.4L540.5 1073.1L536.4 1073.8L532.3 1074.5L528.2 1075.2L524.1 1076.0L520.0 1076.8L515.9 1077.6L511.8 1078.4L507.7 1079.3L503.6 1080.2L499.5 1081.1L495.4 1082.0L491.3 1082.9L487.2 1083.9L483.1 1084.9L479.0 1086.0L474.9 1087.0L470.8 1088.1L466.7 1089.2L462.6 1090.3L458.5 1091.5L454.4 1092.7L450.3 1093.9L446.2 1095.1L442.1 1096.4L438.0 1097.6L433.9 1098.9L429.8 1100.3L425.7 1101.6L421.6 1103.0L417.5 1104.4L413.4 1105.8L409.3 1107.2L405.3 1108.7L401.2 1110.1L397.1 1111.6L393.0 1113.1L388.9 1114.7L384.8 1116.2L380.7 1117.8L376.6 1119.4L372.5 1121.0L368.4 1122.6L364.3 1124.2L360.2 1125.9L356.1 1127.5L352.0 1129.2L347.9 1130.9L343.8 1132.6L339.7 1134.3L335.6 1136.0L331.5 1137.7L327.4 1139.5Z" fill="#000"/>
<text transform="translate(684.3 137.2) rotate(-44)" y="6.4" font-family="Liberation Sans, sans-serif" font-weight="bold" font-size="18" fill="#000" stroke="#000" stroke-width="1.0" stroke-linejoin="round" letter-spacing="0" text-anchor="middle">C30, C32</text>
<text transform="translate(737.2 134.4) rotate(-44)" y="6.4" font-family="Liberation Sans, sans-serif" font-weight="bold" font-size="18" fill="#000" stroke="#000" stroke-width="1.0" stroke-linejoin="round" letter-spacing="-0.35" text-anchor="middle">C25</text>
<text transform="translate(736.8 158.1) rotate(-44)" y="6.4" font-family="Liberation Sans, sans-serif" font-weight="bold" font-size="18" fill="#000" stroke="#000" stroke-width="1.0" stroke-linejoin="round" letter-spacing="-0.35" text-anchor="middle">C20</text>
<text transform="translate(752.6 165.5) rotate(-42)" y="6.4" font-family="Liberation Sans, sans-serif" font-weight="bold" font-size="18" fill="#000" stroke="#000" stroke-width="1.0" stroke-linejoin="round" letter-spacing="-0.35" text-anchor="middle">C15, C16</text>
<text transform="translate(666.6 270.2) rotate(-45)" y="6.4" font-family="Liberation Sans, sans-serif" font-weight="bold" font-size="18" fill="#000" stroke="#000" stroke-width="1.0" stroke-linejoin="round" letter-spacing="-0.35" text-anchor="middle">C13</text>
<text transform="translate(665.9 292.7) rotate(-45)" y="6.4" font-family="Liberation Sans, sans-serif" font-weight="bold" font-size="18" fill="#000" stroke="#000" stroke-width="1.0" stroke-linejoin="round" letter-spacing="-0.35" text-anchor="middle">C10</text>
<text transform="translate(691.9 278.7) rotate(-45)" y="6.4" font-family="Liberation Sans, sans-serif" font-weight="bold" font-size="18" fill="#000" stroke="#000" stroke-width="1.0" stroke-linejoin="round" letter-spacing="-0.35" text-anchor="middle">C8</text>
<text transform="translate(675.7 314.5) rotate(-44)" y="6.4" font-family="Liberation Sans, sans-serif" font-weight="bold" font-size="18" fill="#000" stroke="#000" stroke-width="1.0" stroke-linejoin="round" letter-spacing="-0.35" text-anchor="middle">C6, C7</text>
<text transform="translate(663.8 363.8) rotate(-45)" y="6.4" font-family="Liberation Sans, sans-serif" font-weight="bold" font-size="18" fill="#000" stroke="#000" stroke-width="1.0" stroke-linejoin="round" letter-spacing="-0.35" text-anchor="middle">C5</text>
<text transform="translate(686.3 380.0) rotate(-45)" y="6.4" font-family="Liberation Sans, sans-serif" font-weight="bold" font-size="18" fill="#000" stroke="#000" stroke-width="1.0" stroke-linejoin="round" letter-spacing="-0.35" text-anchor="middle">C4</text>
<text transform="translate(663.8 401.7) rotate(-45)" y="6.4" font-family="Liberation Sans, sans-serif" font-weight="bold" font-size="18" fill="#000" stroke="#000" stroke-width="1.0" stroke-linejoin="round" letter-spacing="-0.35" text-anchor="middle">C3</text>
<text transform="translate(666.6 562.1) rotate(-15)" y="6.4" font-family="Liberation Sans, sans-serif" font-weight="bold" font-size="18" fill="#000" stroke="#000" stroke-width="1.0" stroke-linejoin="round" letter-spacing="-0.35" text-anchor="middle">C2</text>
<text transform="translate(672.5 580.2) rotate(-13.5)" y="6.4" font-family="Liberation Sans, sans-serif" font-weight="bold" font-size="18" fill="#000" stroke="#000" stroke-width="1.0" stroke-linejoin="round" letter-spacing="-0.35" text-anchor="middle">C1.5</text>
<text transform="translate(667.0 864.5) rotate(0)" y="6.4" font-family="Liberation Sans, sans-serif" font-weight="bold" font-size="18" fill="#000" stroke="#000" stroke-width="1.0" stroke-linejoin="round" letter-spacing="-0.35" text-anchor="middle">C1</text>
<text transform="translate(675.5 1059.0) rotate(0)" y="6.4" font-family="Liberation Sans, sans-serif" font-weight="bold" font-size="18" fill="#000" stroke="#000" stroke-width="1.0" stroke-linejoin="round" letter-spacing="-0.35" text-anchor="middle">C0.5</text>
</svg>
</body></html>
